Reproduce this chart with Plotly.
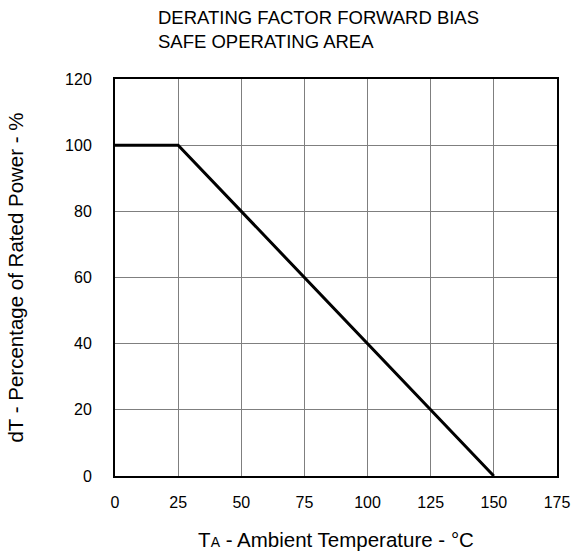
import plotly.graph_objects as go

temps = [0, 25, 150]
power_pct = [100, 100, 0]
x_ticks = [0, 25, 50, 75, 100, 125, 150, 175]
y_ticks = [0, 20, 40, 60, 80, 100, 120]

FONT = "Liberation Sans, Arial, sans-serif"

fig = go.Figure()
fig.add_trace(go.Scatter(x=temps, y=power_pct, mode="lines",
                         line=dict(color="black", width=3), showlegend=False,
                         hoverinfo="skip"))

fig.update_layout(
    width=574, height=558,
    margin=dict(l=115, r=17, t=79, b=82, autoexpand=False),
    paper_bgcolor="white", plot_bgcolor="white",
    font=dict(family=FONT, size=16, color="black"),
    xaxis=dict(range=[0, 175], tickvals=x_ticks, ticks="", showgrid=True,
               gridcolor="#7f7f7f", gridwidth=1, zeroline=False,
               showline=True, linecolor="black", linewidth=2, mirror=True,
               tickfont=dict(size=16), ticklabelstandoff=11, automargin=False,
               title=dict(text="T<span style=\"font-size:14px\">A</span> - Ambient Temperature - °C",
                          font=dict(size=20.5), standoff=22)),
    yaxis=dict(range=[0, 120], tickvals=y_ticks, ticks="", showgrid=True,
               gridcolor="#7f7f7f", gridwidth=1, zeroline=False,
               showline=True, linecolor="black", linewidth=2, mirror=True,
               tickfont=dict(size=16), ticklabelstandoff=18, automargin=False,
               title=dict(text="dT - Percentage of Rated Power - %",
                          font=dict(size=20.5), standoff=36)),
    annotations=[dict(text="DERATING FACTOR FORWARD BIAS<br>SAFE OPERATING AREA",
                      xref="paper", yref="paper", x=(158 - 115) / 442, y=1.0,
                      yshift=74, xshift=-2,
                      xanchor="left", yanchor="top", align="left", showarrow=False,
                      font=dict(size=18.5, family=FONT, color="black"))],
)

fig.write_html("out.html",
               config={"displayModeBar": False, "staticPlot": True},
               post_script="document.body.style.margin='0';"
                           "document.body.style.overflow='hidden';")
